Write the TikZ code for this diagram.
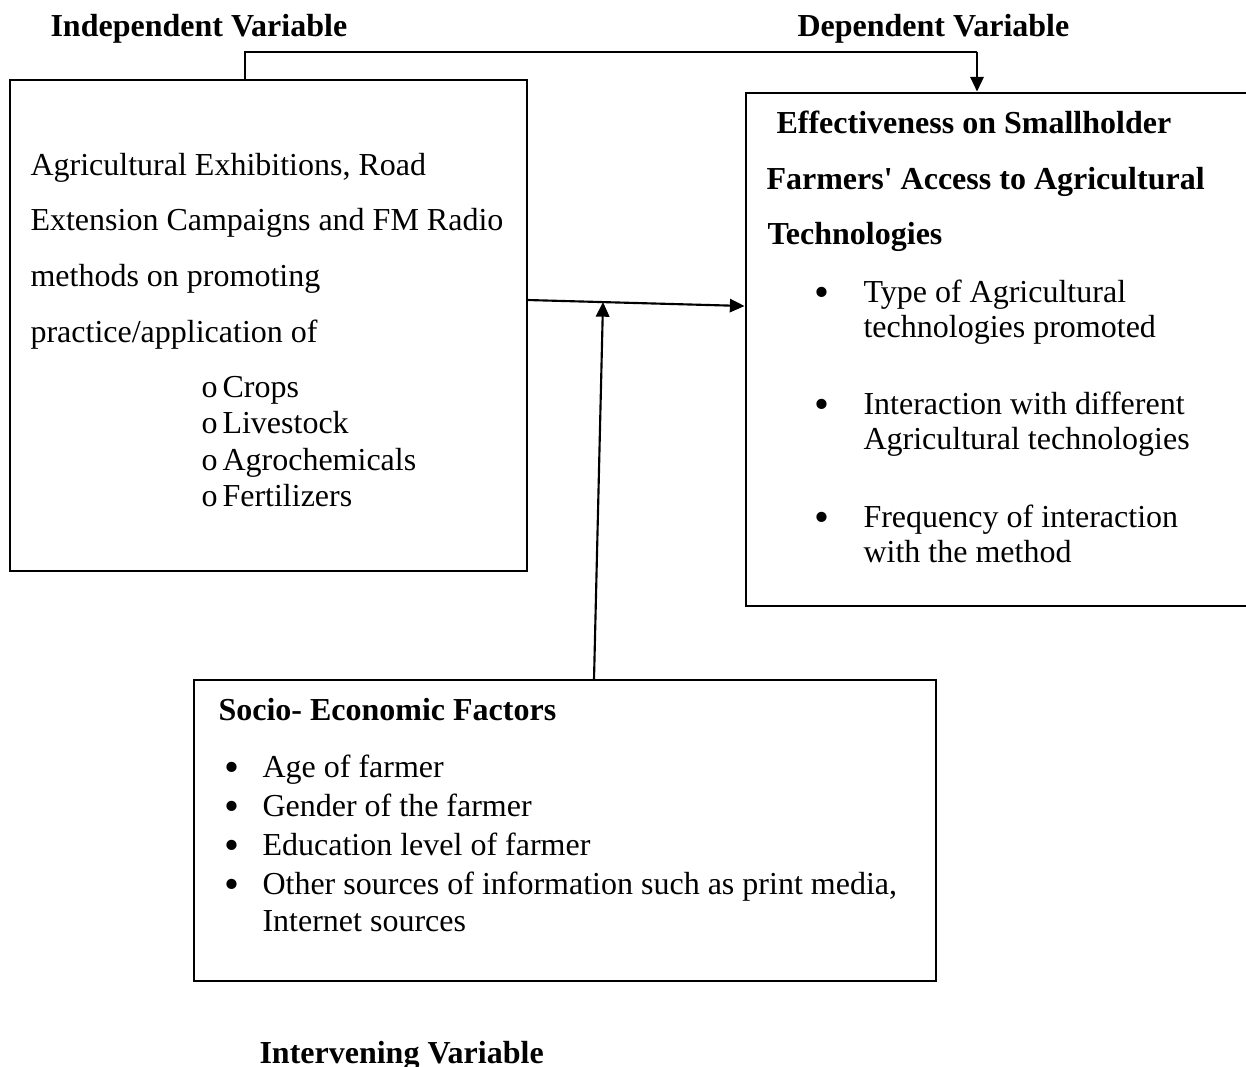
\documentclass[tikz,border=0pt]{standalone}
\usepackage{fontspec}
\setmainfont{Liberation Serif}
\usetikzlibrary{arrows.meta,positioning,fit}

\begin{document}
\begin{tikzpicture}[x=0.375pt,y=-0.375pt,
    box/.style={draw, inner sep=0pt, line width=0.5pt},
    txt/.style={anchor=base west, inner sep=0pt, font=\fontsize{12}{14}\selectfont},
    head/.style={txt, font=\fontsize{12}{14}\selectfont\bfseries},
    bul/.style={anchor=base, inner sep=0pt, font=\fontsize{16}{18}\selectfont},
    arrow/.style={line width=0.8pt, -{Triangle[length=5.5pt,width=5pt]}}]
  \useasboundingbox (0,0) rectangle (1246,1066);
  % Boxes
  \node[box, fit={(10,80) (527,571)}] (indep) {};
  \node[box, line width=1.1pt, fit={(746,93) (1256,606)}] (dep) {};
  \node[box, fit={(194,680) (936,981)}] (socio) {};
  % Variable titles
  \node[head] (indeptitle) at (50,36) {Independent Variable};
  \node[head] (deptitle) at (797,36) {Dependent Variable};
  \node[head] (inttitle) at (259,1063) {Intervening Variable};
  % Independent variable box
  \foreach \t [count=\i from 0] in {{Agricultural Exhibitions, Road},
      Extension Campaigns and FM Radio, methods on promoting,
      practice/application of}
    \node[txt] (ind\i) at (30,175+55.7*\i) {\t};
  \foreach \t [count=\i from 0] in {Crops, Livestock, Agrochemicals, Fertilizers} {
    \node[txt] (obul\i) at (201,397+36.5*\i) {o};
    \node[txt] (crop\i) at (222,397+36.5*\i) {\t};
  }
  % Dependent variable box
  \node[head] (dep1) at (776,133) {Effectiveness on Smallholder};
  \node[head] (dep2) at (766,189) {Farmers\textquotesingle{} Access to Agricultural};
  \node[head] (dep3) at (767,244) {Technologies};
  \foreach \a/\b [count=\i from 0] in {Type of Agricultural/technologies promoted,
      Interaction with different/Agricultural technologies,
      Frequency of interaction/with the method} {
    \node[bul] (depbul\i) at (822,306+112.5*\i) {•};
    \node[txt] (depa\i) at (863,302+112.5*\i) {\a};
    \node[txt] (depb\i) at (863,337+112.5*\i) {\b};
  }
  % Intervening variable box
  \node[head] (soc) at (218,720) {Socio- Economic Factors};
  \foreach \t [count=\i from 0] in {Age of farmer, Gender of the farmer,
      Education level of farmer, {Other sources of information such as print media,}} {
    \node[bul] (socbul\i) at (232,781+39*\i) {•};
    \node[txt] (soc\i) at (262,777+39*\i) {\t};
  }
  \node[txt] (soc4) at (262,931) {Internet sources};
  % Connectors
  \coordinate (topL) at (245,52);
  \coordinate (topR) at (977,52);
  \coordinate (meet) at (603,302);
  \draw[line width=0.5pt] (indep.north -| topL) -- (topL) -- (topR);
  \draw[arrow] (topR) -- (dep.north -| topR);
  \draw[arrow] (indep.east |- 0,300) -- (dep.west |- 0,306);
  \draw[arrow] (socio.north -| 594,0) -- (meet);
\end{tikzpicture}
\end{document}
